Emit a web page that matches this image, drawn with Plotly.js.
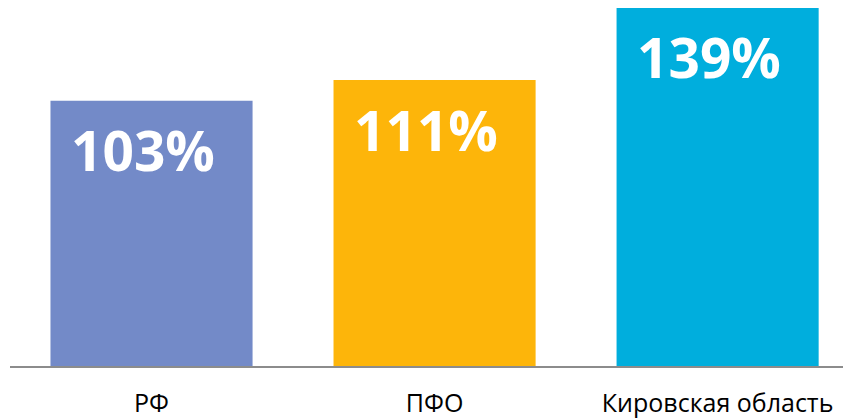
<!DOCTYPE html>
<html>
<head>
<meta charset="utf-8">
<script src="https://cdn.plot.ly/plotly-3.0.1.min.js"></script>
<style>html,body{margin:0;padding:0;background:#fff;}#chart{width:843px;height:419px;}</style>
</head>
<body>
<div id="chart"></div>
<script>
const categories = ["РФ", "ПФО", "Кировская область"];
const values = [103, 111, 139];
const labels = ["103%", "111%", "139%"];
const barColors = ["#738AC8", "#FDB50A", "#00AEDD"];

const trace = {
  type: "bar",
  x: categories,
  y: values,
  marker: {color: barColors, line: {width: 0}},
  hoverinfo: "none"
};

const annotations = categories.map((c, i) => ({
  x: c, y: values[i], xref: "x", yref: "y",
  text: labels[i], showarrow: false,
  xanchor: "center", yanchor: "middle",
  xshift: -9, yshift: -49,
  font: {family: "Open Sans, sans-serif", size: 55, color: "#ffffff", weight: "bold"}
}));

const layout = {
  width: 843, height: 419,
  margin: {l: 10, r: 0, t: 0, b: 53},
  paper_bgcolor: "#ffffff", plot_bgcolor: "#ffffff",
  showlegend: false,
  bargap: 0.286,
  xaxis: {
    type: "category",
    range: [-0.5, 2.443],
    showline: true, linecolor: "#8c8c8c", linewidth: 1.5,
    showgrid: false, zeroline: false, ticks: "",
    ticklabelstandoff: 14,
    tickfont: {family: "Open Sans, sans-serif", size: 25, color: "#000000"},
    fixedrange: true
  },
  yaxis: {
    range: [0, 142.1],
    visible: false, showgrid: false, zeroline: false,
    fixedrange: true
  },
  annotations: annotations
};

Plotly.newPlot("chart", [trace], layout, {displayModeBar: false, staticPlot: true});
</script>
</body>
</html>
